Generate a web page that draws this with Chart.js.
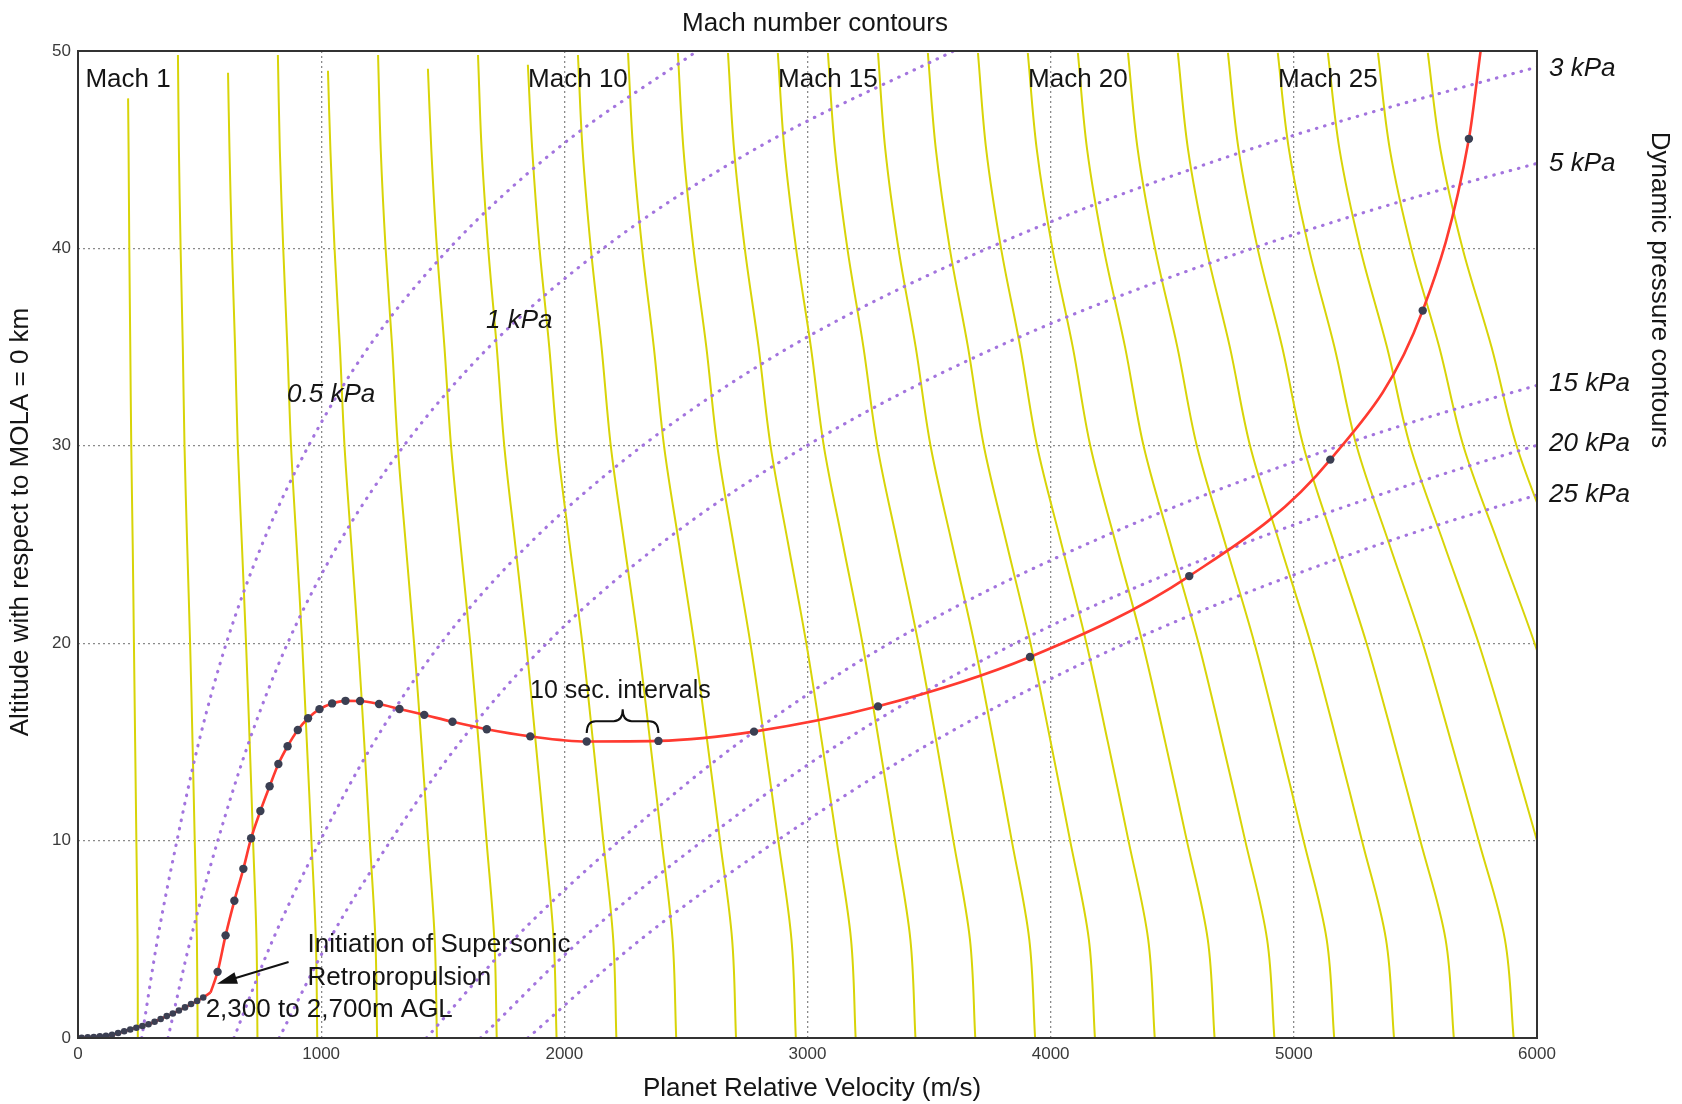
<!DOCTYPE html>
<html>
<head>
<meta charset="utf-8">
<script src="https://cdn.jsdelivr.net/npm/chart.js@4.4.1/dist/chart.umd.min.js"></script>
<style>
  html, body { margin: 0; padding: 0; background: #fff; }
  #wrap { width: 1682px; height: 1104px; }
</style>
</head>
<body>
<div id="wrap"><canvas id="entryChart" width="1682" height="1104"></canvas></div>
<script>
// axis ticks
const xTickLabels = ['0', '1000', '2000', '3000', '4000', '5000', '6000'];
const yTickLabels = ['0', '10', '20', '30', '40', '50'];

// Mach contours: velocity (m/s) at each altitude (km), Mach 1 .. 27
const machAlt = [0, 5, 10, 15, 20, 25, 30, 35, 40, 45, 50];
const machTop = [47.6, 49.8, 48.9, 49.8, 49.0, 49.8, 49.1, 49.8, 49.3, 49.8, 49.9, 49.9, 49.9, 49.9,
                 49.9, 49.9, 49.9, 49.9, 49.9, 49.9, 49.9, 49.9, 49.9, 49.9, 49.9, 49.9, 49.9];
const machVel = [
  [246, 245, 240, 235, 230, 225, 219, 215, 211, 208, 206],
  [492, 489, 480, 471, 461, 449, 438, 431, 422, 415, 411],
  [738, 734, 720, 706, 691, 674, 657, 646, 633, 623, 617],
  [984, 978, 960, 941, 922, 899, 876, 861, 844, 830, 822],
  [1230, 1223, 1200, 1177, 1152, 1124, 1096, 1077, 1055, 1038, 1028],
  [1476, 1467, 1440, 1412, 1382, 1348, 1315, 1292, 1265, 1245, 1234],
  [1722, 1712, 1680, 1647, 1613, 1573, 1534, 1507, 1476, 1453, 1439],
  [1968, 1956, 1920, 1882, 1843, 1798, 1753, 1722, 1687, 1660, 1645],
  [2214, 2201, 2160, 2118, 2074, 2022, 1972, 1938, 1898, 1868, 1850],
  [2460, 2445, 2400, 2353, 2304, 2247, 2191, 2153, 2109, 2075, 2056],
  [2706, 2690, 2640, 2588, 2534, 2472, 2410, 2368, 2320, 2283, 2262],
  [2952, 2934, 2880, 2824, 2765, 2696, 2629, 2584, 2531, 2490, 2467],
  [3198, 3179, 3120, 3059, 2995, 2921, 2848, 2799, 2742, 2698, 2673],
  [3444, 3423, 3360, 3294, 3226, 3146, 3067, 3014, 2953, 2905, 2878],
  [3690, 3668, 3600, 3530, 3456, 3371, 3287, 3230, 3164, 3113, 3084],
  [3936, 3912, 3840, 3765, 3686, 3595, 3506, 3445, 3374, 3320, 3290],
  [4182, 4157, 4080, 4000, 3917, 3820, 3725, 3660, 3585, 3528, 3495],
  [4428, 4401, 4320, 4235, 4147, 4045, 3944, 3875, 3796, 3735, 3701],
  [4674, 4646, 4560, 4471, 4378, 4269, 4163, 4091, 4007, 3943, 3906],
  [4920, 4890, 4800, 4706, 4608, 4494, 4382, 4306, 4218, 4150, 4112],
  [5166, 5135, 5040, 4941, 4838, 4719, 4601, 4521, 4429, 4358, 4318],
  [5412, 5379, 5280, 5177, 5069, 4943, 4820, 4737, 4640, 4565, 4523],
  [5658, 5624, 5520, 5412, 5299, 5168, 5039, 4952, 4851, 4773, 4729],
  [5904, 5868, 5760, 5647, 5530, 5393, 5258, 5167, 5062, 4980, 4934],
  [6150, 6113, 6000, 5883, 5760, 5618, 5478, 5383, 5273, 5188, 5140],
  [6396, 6357, 6240, 6118, 5990, 5842, 5697, 5598, 5483, 5395, 5346],
  [6642, 6602, 6480, 6353, 6221, 6067, 5916, 5813, 5694, 5603, 5551]
];
const machLabelNums = [1, 10, 15, 20, 25];

// dynamic pressure contours: velocity (m/s) at each altitude of qAlt
const qAlt = [0, 5, 10, 15, 20, 25, 30, 35, 40, 45, 50];
const q05 = [262, 327, 407, 497, 610, 757, 948, 1195, 1527, 1966, 2546];
const q1 = [370, 463, 575, 703, 862, 1070, 1340, 1690, 2160, 2780, 3600];
const q3 = [641, 802, 996, 1218, 1493, 1853, 2321, 2927, 3741, 4815, 6236];
const q5 = [827, 1035, 1286, 1572, 1928, 2393, 2996, 3779, 4830, 6216, 8050];
const q15 = [1433, 1793, 2227, 2723, 3338, 4144, 5190, 6545];
const q20 = [1655, 2071, 2571, 3144, 3855, 4785, 5993, 7558];
const q25 = [1850, 2315, 2875, 3515, 4310, 5350, 6700];
// label text, position of in-plot labels / exit altitude on right edge
const qLabels = ['0.5 kPa', '1 kPa', '3 kPa', '5 kPa', '15 kPa', '20 kPa', '25 kPa'];
const qLabelVel = [860, 1678, null, null, null, null, null];
const qLabelAlt = [32.6, 36.35, 49.1, 44.3, 33.15, 30.1, 27.5];

// trajectory
const lowLegVel = [0, 50, 100, 150, 200, 250, 300, 350, 400, 450, 500, 545];
const lowLegAlt = [0, 0.04, 0.09, 0.18, 0.38, 0.56, 0.74, 1.02, 1.3, 1.62, 1.95, 2.3];
const lowMarkVel = [15, 40, 65, 90, 115, 140, 165, 190, 215, 240, 265, 290, 315, 340, 365, 390, 415, 440, 465, 490, 515];
const lowMarkAlt = [0.01, 0.03, 0.05, 0.08, 0.11, 0.16, 0.25, 0.34, 0.43, 0.52, 0.61, 0.7, 0.82, 0.96, 1.11, 1.24, 1.39, 1.55, 1.72, 1.88, 2.05];
const markVel = [574, 607, 643, 680, 712, 750, 788, 824, 862, 904, 946, 993, 1045, 1100, 1160, 1238, 1322,
                 1424, 1540, 1681, 1860, 2092, 2387, 2780, 3290, 3915, 4570, 5150, 5530, 5720];
const markAlt = [3.35, 5.2, 6.95, 8.57, 10.12, 11.5, 12.75, 13.88, 14.78, 15.6, 16.2, 16.66, 16.95, 17.08, 17.07,
                 16.92, 16.67, 16.37, 16.02, 15.64, 15.28, 15.02, 15.05, 15.52, 16.8, 19.3, 23.4, 29.3, 36.85, 45.55];
const topExit = { vel: 5768, alt: 50 };

const FONT = '"Liberation Sans", Arial, Helvetica, sans-serif';
const yellow = 'rgb(216, 212, 8)';
const purple = 'rgb(163, 116, 222)';
const red = 'rgb(255, 58, 48)';
const dotColor = '#3b3f52';

const pts = (xs, ys) => xs.map((v, i) => ({ x: v, y: ys[i] }));

const datasets = [];

datasets.push({
  label: 'markers', data: pts(markVel, markAlt), showLine: false,
  pointRadius: 4.2, pointBackgroundColor: dotColor, pointBorderWidth: 0, order: 0
});
datasets.push({
  label: 'markers low', data: pts(lowMarkVel, lowMarkAlt), showLine: false,
  pointRadius: 3.3, pointBackgroundColor: dotColor, pointBorderWidth: 0, order: 0
});
datasets.push({
  label: 'trajectory low', data: pts(lowLegVel, lowLegAlt), showLine: true,
  borderColor: red, borderWidth: 2.6, pointRadius: 0, tension: 0.2, order: 1
});
datasets.push({
  label: 'trajectory',
  data: [{ x: lowLegVel[lowLegVel.length - 1], y: lowLegAlt[lowLegAlt.length - 1] }]
    .concat(pts(markVel, markAlt), [{ x: topExit.vel, y: topExit.alt }]),
  showLine: true, borderColor: red, borderWidth: 2.6, pointRadius: 0,
  cubicInterpolationMode: 'monotone', order: 1
});

[q05, q1, q3, q5, q15, q20, q25].forEach((row, i) => {
  datasets.push({
    label: qLabels[i], data: pts(row, qAlt), showLine: true,
    borderColor: purple, borderWidth: 3.1, borderDash: [0.5, 8], borderCapStyle: 'round',
    pointRadius: 0, cubicInterpolationMode: 'monotone', order: 2
  });
});

machVel.forEach((row, i) => {
  const data = row.map((v, j) => ({ x: v, y: j === row.length - 1 ? machTop[i] : machAlt[j] }));
  datasets.push({
    label: 'Mach ' + (i + 1), data, showLine: true,
    borderColor: yellow, borderWidth: 2, pointRadius: 0, tension: 0.35, order: 3
  });
});

const overlay = {
  id: 'overlay',
  afterDraw(chart) {
    const { ctx, chartArea: a, scales: { x, y } } = chart;
    const X = v => x.getPixelForValue(v);
    const Y = v => y.getPixelForValue(v);
    ctx.save();

    ctx.strokeStyle = '#333';
    ctx.lineWidth = 2;
    ctx.setLineDash([]);
    ctx.strokeRect(a.left, a.top, a.right - a.left, a.bottom - a.top);

    ctx.fillStyle = '#151515';
    ctx.textBaseline = 'middle';
    ctx.textAlign = 'center';
    ctx.font = '26px ' + FONT;
    machLabelNums.forEach(n => {
      const row = machVel[n - 1];
      ctx.fillText('Mach ' + n, X(row[row.length - 1]), a.top + 29);
    });
    ctx.fillText('Mach number contours', 815, 24);
    ctx.fillText('Planet Relative Velocity (m/s)', 812, 1089);

    ctx.save();
    ctx.translate(21, 522);
    ctx.rotate(-Math.PI / 2);
    ctx.fillText('Altitude with respect to MOLA = 0 km', 0, 0);
    ctx.restore();

    ctx.save();
    ctx.translate(1659, 290);
    ctx.rotate(Math.PI / 2);
    ctx.fillText('Dynamic pressure contours', 0, 0);
    ctx.restore();

    // pressure labels
    ctx.textAlign = 'left';
    ctx.font = 'italic 26px ' + FONT;
    qLabels.forEach((t, i) => {
      const px = qLabelVel[i] === null ? a.right + 12 : X(qLabelVel[i]);
      ctx.fillText(t, px, Y(qLabelAlt[i]));
    });

    // notes
    ctx.font = '25px ' + FONT;
    ctx.fillText('10 sec. intervals', X(1859), Y(17.55));
    ctx.font = '26px ' + FONT;
    ctx.fillText('Initiation of Supersonic', X(944), Y(4.7));
    ctx.fillText('Retropropulsion', X(944), Y(3.05));
    ctx.fillText('2,300 to 2,700m AGL', X(525), Y(1.42));

    // brace over the 10 s spacing
    const xl = X(2092), xr = X(2387), xm = X(2240);
    const yb = Y(15.45), ya = Y(16.05), yc = Y(16.65);
    ctx.strokeStyle = '#111';
    ctx.lineWidth = 2;
    ctx.beginPath();
    ctx.moveTo(xl, yb);
    ctx.quadraticCurveTo(xl, ya, xl + 9, ya);
    ctx.lineTo(xm - 9, ya);
    ctx.quadraticCurveTo(xm, ya, xm, yc);
    ctx.quadraticCurveTo(xm, ya, xm + 9, ya);
    ctx.lineTo(xr - 9, ya);
    ctx.quadraticCurveTo(xr, ya, xr, yb);
    ctx.stroke();

    // arrow to the start of retropropulsion
    const tx = X(866), ty = Y(3.85), hx = X(572), hy = Y(2.75);
    const ang = Math.atan2(hy - ty, hx - tx);
    const hl = 20, hw = 6;
    ctx.beginPath();
    ctx.moveTo(tx, ty);
    ctx.lineTo(hx - Math.cos(ang) * hl * 0.8, hy - Math.sin(ang) * hl * 0.8);
    ctx.stroke();
    ctx.fillStyle = '#111';
    ctx.beginPath();
    ctx.moveTo(hx, hy);
    ctx.lineTo(hx - Math.cos(ang) * hl - Math.sin(ang) * hw, hy - Math.sin(ang) * hl + Math.cos(ang) * hw);
    ctx.lineTo(hx - Math.cos(ang) * hl + Math.sin(ang) * hw, hy - Math.sin(ang) * hl - Math.cos(ang) * hw);
    ctx.closePath();
    ctx.fill();

    ctx.restore();
  }
};

new Chart(document.getElementById('entryChart').getContext('2d'), {
  type: 'scatter',
  data: { datasets },
  options: {
    responsive: false,
    animation: false,
    devicePixelRatio: 1,
    layout: { padding: { top: 51, right: 145, bottom: 0, left: 0 } },
    plugins: { legend: { display: false }, tooltip: { enabled: false } },
    scales: {
      x: {
        type: 'linear', min: 0, max: 6000,
        afterFit: s => { s.height = 66; },
        ticks: {
          stepSize: 1000, autoSkip: false, maxRotation: 0, padding: 6,
          color: '#3a3a3a', font: { family: FONT, size: 17 },
          callback: (v, i) => xTickLabels[i]
        },
        grid: { color: '#8a8a8a', lineWidth: 1.3, drawTicks: false },
        border: { display: false, dash: [2, 3] }
      },
      y: {
        type: 'linear', min: 0, max: 50,
        afterFit: s => { s.width = 78; },
        ticks: {
          stepSize: 10, autoSkip: false, padding: 7,
          color: '#3a3a3a', font: { family: FONT, size: 17 },
          callback: (v, i) => yTickLabels[i]
        },
        grid: { color: '#8a8a8a', lineWidth: 1.3, drawTicks: false },
        border: { display: false, dash: [2, 3] }
      }
    }
  },
  plugins: [overlay]
});
</script>
</body>
</html>
